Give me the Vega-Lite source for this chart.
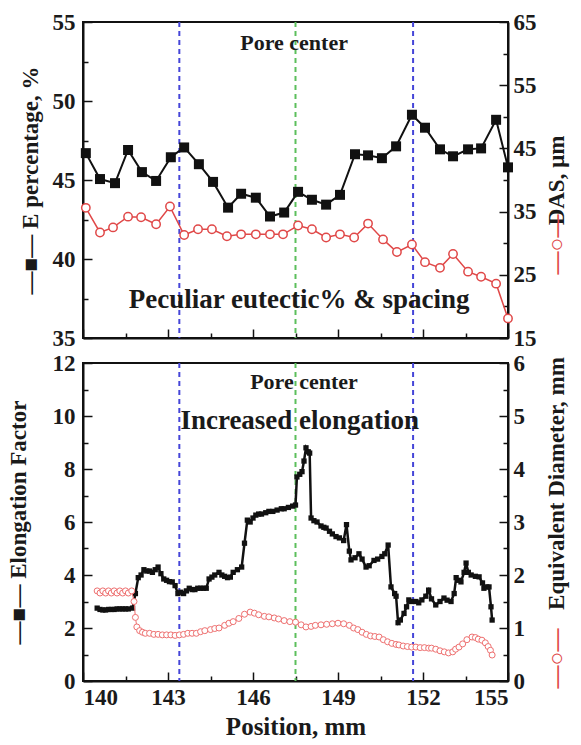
{
  "$schema": "https://vega.github.io/schema/vega-lite/v6.json",
  "background": "white",
  "padding": {"left": 5, "top": 10, "right": 4, "bottom": 0},
  "spacing": 0,
  "config": {
    "font": "Liberation Serif",
    "view": {"stroke": "#111", "strokeWidth": 2},
    "axis": {
      "labelFont": "Liberation Serif", "labelFontWeight": "bold", "labelFontSize": 23, "labelColor": "#1a1a1a",
      "titleFont": "Liberation Serif", "titleFontWeight": "bold", "titleFontSize": 23, "titleColor": "#1a1a1a",
      "domainColor": "#111", "domainWidth": 2, "tickColor": "#111", "tickWidth": 1.5, "grid": false
    },
    "text": {"font": "Liberation Serif"}
  },
  "datasets": {
    "marks": [
      {"pos": 143.4, "kind": "edge"},
      {"pos": 147.5, "kind": "center"},
      {"pos": 151.65, "kind": "edge"}
    ],
    "ep": [
      {"pos": 140.1, "E": 46.7}, {"pos": 140.6, "E": 45.06}, {"pos": 141.13, "E": 44.8}, {"pos": 141.59, "E": 46.9},
      {"pos": 142.08, "E": 45.5}, {"pos": 142.58, "E": 44.94}, {"pos": 143.1, "E": 46.44}, {"pos": 143.57, "E": 47.06},
      {"pos": 144.09, "E": 46.0}, {"pos": 144.59, "E": 44.88}, {"pos": 145.12, "E": 43.25}, {"pos": 145.58, "E": 44.13},
      {"pos": 146.1, "E": 43.88}, {"pos": 146.6, "E": 42.69}, {"pos": 147.1, "E": 42.94}, {"pos": 147.59, "E": 44.25},
      {"pos": 148.08, "E": 43.75}, {"pos": 148.58, "E": 43.44}, {"pos": 149.07, "E": 44.06}, {"pos": 149.6, "E": 46.63},
      {"pos": 150.06, "E": 46.56}, {"pos": 150.55, "E": 46.38}, {"pos": 151.05, "E": 47.13}, {"pos": 151.61, "E": 49.13},
      {"pos": 152.07, "E": 48.31}, {"pos": 152.6, "E": 46.94}, {"pos": 153.06, "E": 46.5}, {"pos": 153.59, "E": 46.94},
      {"pos": 154.05, "E": 47.0}, {"pos": 154.58, "E": 48.81}, {"pos": 155.0, "E": 45.8}
    ],
    "das": [
      {"pos": 140.1, "d": 35.6}, {"pos": 140.6, "d": 31.7}, {"pos": 141.06, "d": 32.5}, {"pos": 141.59, "d": 34.2},
      {"pos": 142.05, "d": 34.1}, {"pos": 142.58, "d": 33.0}, {"pos": 143.07, "d": 35.8}, {"pos": 143.57, "d": 31.3},
      {"pos": 144.06, "d": 32.2}, {"pos": 144.55, "d": 32.2}, {"pos": 145.08, "d": 31.1}, {"pos": 145.58, "d": 31.4},
      {"pos": 146.1, "d": 31.4}, {"pos": 146.6, "d": 31.4}, {"pos": 147.06, "d": 31.4}, {"pos": 147.59, "d": 32.8},
      {"pos": 148.08, "d": 32.2}, {"pos": 148.58, "d": 30.9}, {"pos": 149.07, "d": 31.4}, {"pos": 149.57, "d": 30.9},
      {"pos": 150.06, "d": 33.1}, {"pos": 150.59, "d": 30.6}, {"pos": 151.08, "d": 28.6}, {"pos": 151.61, "d": 29.8},
      {"pos": 152.07, "d": 27.0}, {"pos": 152.6, "d": 26.1}, {"pos": 153.06, "d": 28.3}, {"pos": 153.59, "d": 25.5},
      {"pos": 154.05, "d": 24.7}, {"pos": 154.58, "d": 23.6}, {"pos": 155.0, "d": 18.1}
    ],
    "notesTop": [
      {"pos": 147.45, "v": 53.7, "label": "Pore center"},
      {"pos": 147.63, "v": 37.4, "label": "Peculiar eutectic% & spacing"}
    ],
    "notesBot": [
      {"pos": 147.8, "v": 11.3, "label": "Pore center"},
      {"pos": 147.65, "v": 9.8, "label": "Increased elongation"}
    ],
    "ef": [
      {"pos": 140.5, "ef": 2.75}, {"pos": 140.6, "ef": 2.7}, {"pos": 140.7, "ef": 2.68}, {"pos": 140.8, "ef": 2.68},
      {"pos": 140.9, "ef": 2.7}, {"pos": 141.0, "ef": 2.7}, {"pos": 141.1, "ef": 2.7}, {"pos": 141.2, "ef": 2.72},
      {"pos": 141.3, "ef": 2.72}, {"pos": 141.4, "ef": 2.72}, {"pos": 141.5, "ef": 2.72}, {"pos": 141.6, "ef": 2.72},
      {"pos": 141.75, "ef": 2.75}, {"pos": 141.85, "ef": 3.3}, {"pos": 141.95, "ef": 3.9}, {"pos": 142.05, "ef": 4.0},
      {"pos": 142.15, "ef": 4.2}, {"pos": 142.25, "ef": 4.15}, {"pos": 142.35, "ef": 4.15}, {"pos": 142.45, "ef": 4.1},
      {"pos": 142.55, "ef": 4.2}, {"pos": 142.65, "ef": 4.3}, {"pos": 142.75, "ef": 4.05}, {"pos": 142.85, "ef": 3.85},
      {"pos": 142.95, "ef": 3.8}, {"pos": 143.05, "ef": 3.75}, {"pos": 143.15, "ef": 3.74}, {"pos": 143.25, "ef": 3.6},
      {"pos": 143.35, "ef": 3.3}, {"pos": 143.45, "ef": 3.35}, {"pos": 143.55, "ef": 3.3}, {"pos": 143.65, "ef": 3.4},
      {"pos": 143.75, "ef": 3.5}, {"pos": 143.85, "ef": 3.45}, {"pos": 143.95, "ef": 3.45}, {"pos": 144.05, "ef": 3.5},
      {"pos": 144.15, "ef": 3.5}, {"pos": 144.25, "ef": 3.5}, {"pos": 144.35, "ef": 3.5}, {"pos": 144.45, "ef": 3.85},
      {"pos": 144.55, "ef": 3.92}, {"pos": 144.65, "ef": 4.0}, {"pos": 144.8, "ef": 4.1}, {"pos": 144.9, "ef": 4.0},
      {"pos": 145.0, "ef": 3.95}, {"pos": 145.1, "ef": 3.9}, {"pos": 145.2, "ef": 3.92}, {"pos": 145.3, "ef": 4.1},
      {"pos": 145.45, "ef": 4.2}, {"pos": 145.6, "ef": 4.3}, {"pos": 145.7, "ef": 5.2}, {"pos": 145.8, "ef": 6.07},
      {"pos": 145.9, "ef": 6.0}, {"pos": 146.0, "ef": 6.15}, {"pos": 146.1, "ef": 6.26}, {"pos": 146.2, "ef": 6.3},
      {"pos": 146.3, "ef": 6.3}, {"pos": 146.45, "ef": 6.35}, {"pos": 146.56, "ef": 6.4}, {"pos": 146.7, "ef": 6.4},
      {"pos": 146.85, "ef": 6.45}, {"pos": 147.0, "ef": 6.5}, {"pos": 147.1, "ef": 6.5}, {"pos": 147.25, "ef": 6.55},
      {"pos": 147.4, "ef": 6.6}, {"pos": 147.5, "ef": 6.64}, {"pos": 147.55, "ef": 7.7}, {"pos": 147.65, "ef": 7.8},
      {"pos": 147.73, "ef": 7.9}, {"pos": 147.8, "ef": 8.3}, {"pos": 147.87, "ef": 8.8}, {"pos": 147.95, "ef": 8.65},
      {"pos": 148.0, "ef": 8.6}, {"pos": 148.05, "ef": 6.15}, {"pos": 148.15, "ef": 6.05}, {"pos": 148.26, "ef": 6.0},
      {"pos": 148.4, "ef": 5.85}, {"pos": 148.5, "ef": 5.8}, {"pos": 148.58, "ef": 5.77}, {"pos": 148.7, "ef": 5.65},
      {"pos": 148.8, "ef": 5.55}, {"pos": 148.93, "ef": 5.45}, {"pos": 149.05, "ef": 5.4}, {"pos": 149.2, "ef": 5.3},
      {"pos": 149.3, "ef": 5.9}, {"pos": 149.4, "ef": 4.9}, {"pos": 149.46, "ef": 4.57}, {"pos": 149.6, "ef": 4.65},
      {"pos": 149.74, "ef": 4.8}, {"pos": 149.85, "ef": 4.6}, {"pos": 149.99, "ef": 4.3}, {"pos": 150.1, "ef": 4.35},
      {"pos": 150.27, "ef": 4.55}, {"pos": 150.4, "ef": 4.6}, {"pos": 150.55, "ef": 4.7}, {"pos": 150.65, "ef": 4.8},
      {"pos": 150.77, "ef": 5.13}, {"pos": 150.87, "ef": 3.55}, {"pos": 151.0, "ef": 3.3}, {"pos": 151.05, "ef": 3.2},
      {"pos": 151.12, "ef": 2.2}, {"pos": 151.2, "ef": 2.3}, {"pos": 151.33, "ef": 2.55}, {"pos": 151.42, "ef": 2.8},
      {"pos": 151.5, "ef": 3.06}, {"pos": 151.6, "ef": 3.0}, {"pos": 151.75, "ef": 3.0}, {"pos": 151.85, "ef": 2.95},
      {"pos": 151.96, "ef": 3.06}, {"pos": 152.1, "ef": 3.2}, {"pos": 152.2, "ef": 3.43}, {"pos": 152.3, "ef": 3.1},
      {"pos": 152.45, "ef": 2.87}, {"pos": 152.6, "ef": 3.0}, {"pos": 152.74, "ef": 3.13}, {"pos": 152.85, "ef": 3.05},
      {"pos": 152.99, "ef": 3.0}, {"pos": 153.1, "ef": 3.3}, {"pos": 153.17, "ef": 3.9}, {"pos": 153.25, "ef": 3.8},
      {"pos": 153.34, "ef": 3.74}, {"pos": 153.45, "ef": 4.1}, {"pos": 153.52, "ef": 4.45}, {"pos": 153.6, "ef": 4.1},
      {"pos": 153.7, "ef": 4.0}, {"pos": 153.85, "ef": 3.95}, {"pos": 153.98, "ef": 3.93}, {"pos": 154.1, "ef": 3.7},
      {"pos": 154.15, "ef": 3.5}, {"pos": 154.25, "ef": 3.55}, {"pos": 154.33, "ef": 3.55}, {"pos": 154.4, "ef": 2.8},
      {"pos": 154.44, "ef": 2.3}
    ],
    "ed": [
      {"pos": 140.5, "ed": 1.7}, {"pos": 140.6, "ed": 1.66}, {"pos": 140.7, "ed": 1.7}, {"pos": 140.8, "ed": 1.66},
      {"pos": 140.9, "ed": 1.7}, {"pos": 141.0, "ed": 1.66}, {"pos": 141.1, "ed": 1.7}, {"pos": 141.2, "ed": 1.66},
      {"pos": 141.3, "ed": 1.7}, {"pos": 141.4, "ed": 1.66}, {"pos": 141.5, "ed": 1.7}, {"pos": 141.6, "ed": 1.66},
      {"pos": 141.72, "ed": 1.7}, {"pos": 141.8, "ed": 1.5}, {"pos": 141.85, "ed": 1.2}, {"pos": 141.9, "ed": 1.02},
      {"pos": 142.0, "ed": 0.95}, {"pos": 142.1, "ed": 0.92}, {"pos": 142.2, "ed": 0.9}, {"pos": 142.35, "ed": 0.9},
      {"pos": 142.5, "ed": 0.88}, {"pos": 142.65, "ed": 0.88}, {"pos": 142.8, "ed": 0.87}, {"pos": 142.95, "ed": 0.87},
      {"pos": 143.1, "ed": 0.87}, {"pos": 143.25, "ed": 0.86}, {"pos": 143.4, "ed": 0.87}, {"pos": 143.55, "ed": 0.88},
      {"pos": 143.7, "ed": 0.9}, {"pos": 143.85, "ed": 0.9}, {"pos": 144.0, "ed": 0.9}, {"pos": 144.15, "ed": 0.93},
      {"pos": 144.3, "ed": 0.95}, {"pos": 144.5, "ed": 0.97}, {"pos": 144.65, "ed": 0.99}, {"pos": 144.8, "ed": 1.0},
      {"pos": 145.0, "ed": 1.05}, {"pos": 145.15, "ed": 1.09}, {"pos": 145.3, "ed": 1.12}, {"pos": 145.5, "ed": 1.18},
      {"pos": 145.7, "ed": 1.26}, {"pos": 145.9, "ed": 1.3}, {"pos": 146.05, "ed": 1.28}, {"pos": 146.2, "ed": 1.25},
      {"pos": 146.4, "ed": 1.22}, {"pos": 146.56, "ed": 1.21}, {"pos": 146.75, "ed": 1.19}, {"pos": 146.9, "ed": 1.17},
      {"pos": 147.1, "ed": 1.14}, {"pos": 147.3, "ed": 1.12}, {"pos": 147.5, "ed": 1.11}, {"pos": 147.7, "ed": 1.06},
      {"pos": 147.87, "ed": 1.02}, {"pos": 148.05, "ed": 1.03}, {"pos": 148.2, "ed": 1.05}, {"pos": 148.4, "ed": 1.06},
      {"pos": 148.6, "ed": 1.07}, {"pos": 148.8, "ed": 1.08}, {"pos": 149.0, "ed": 1.09}, {"pos": 149.2, "ed": 1.08},
      {"pos": 149.4, "ed": 1.05}, {"pos": 149.55, "ed": 1.0}, {"pos": 149.7, "ed": 0.97}, {"pos": 149.85, "ed": 0.92},
      {"pos": 150.0, "ed": 0.88}, {"pos": 150.15, "ed": 0.85}, {"pos": 150.3, "ed": 0.84}, {"pos": 150.45, "ed": 0.83},
      {"pos": 150.6, "ed": 0.78}, {"pos": 150.75, "ed": 0.74}, {"pos": 150.9, "ed": 0.71}, {"pos": 151.05, "ed": 0.69},
      {"pos": 151.15, "ed": 0.68}, {"pos": 151.3, "ed": 0.66}, {"pos": 151.45, "ed": 0.65}, {"pos": 151.6, "ed": 0.64},
      {"pos": 151.75, "ed": 0.64}, {"pos": 151.9, "ed": 0.63}, {"pos": 152.05, "ed": 0.63}, {"pos": 152.2, "ed": 0.62},
      {"pos": 152.3, "ed": 0.62}, {"pos": 152.45, "ed": 0.6}, {"pos": 152.6, "ed": 0.57}, {"pos": 152.75, "ed": 0.55},
      {"pos": 152.9, "ed": 0.53}, {"pos": 153.05, "ed": 0.55}, {"pos": 153.15, "ed": 0.6}, {"pos": 153.27, "ed": 0.64},
      {"pos": 153.4, "ed": 0.7}, {"pos": 153.55, "ed": 0.78}, {"pos": 153.73, "ed": 0.83}, {"pos": 153.85, "ed": 0.82},
      {"pos": 153.95, "ed": 0.79}, {"pos": 154.08, "ed": 0.77}, {"pos": 154.2, "ed": 0.72}, {"pos": 154.3, "ed": 0.65},
      {"pos": 154.38, "ed": 0.58}, {"pos": 154.44, "ed": 0.49}
    ]
  },
  "vconcat": [
    {
      "width": 425,
      "height": 316,
      "encoding": {
        "x": {
          "field": "pos", "type": "quantitative",
          "scale": {"domain": [140, 155], "nice": false, "zero": false},
          "axis": {
            "values": [140, 141.5, 143, 144.5, 146, 147.5, 149, 150.5, 152, 153.5, 155],
            "labels": false, "title": null,
            "tickSize": {"condition": {"test": "(datum.value - 140) % 3 == 0", "value": -9}, "value": -5}
          }
        }
      },
      "layer": [
        {
          "data": {"name": "marks"},
          "mark": {"type": "rule", "strokeDash": [5, 4], "strokeWidth": 2},
          "encoding": {
            "color": {"field": "kind", "type": "nominal", "scale": {"domain": ["edge", "center"], "range": ["#4545d8", "#5cbf5c"]}, "legend": null}
          }
        },
        {
          "data": {"name": "ep"},
          "mark": {"type": "line", "color": "#111", "strokeWidth": 2, "point": {"shape": "square", "filled": true, "size": 100, "color": "#111"}},
          "encoding": {
            "y": {
              "field": "E", "type": "quantitative",
              "scale": {"domain": [35, 55], "nice": false, "zero": false},
              "axis": {
                "orient": "left",
                "values": [35, 37.5, 40, 42.5, 45, 47.5, 50, 52.5, 55],
                "labelExpr": "datum.value % 5 == 0 ? datum.label : ''",
                "tickSize": {"condition": {"test": "datum.value % 5 == 0", "value": -9}, "value": -5},
                "labelPadding": 17,
                "title": "—■— E percentage, %",
                "titleAngle": 270,
                "titlePadding": 10
              }
            }
          }
        },
        {
          "data": {"name": "das"},
          "mark": {"type": "line", "color": "#e04848", "strokeWidth": 1.5, "point": {"shape": "circle", "filled": true, "fill": "white", "stroke": "#e04848", "strokeWidth": 1.5, "size": 70}},
          "encoding": {
            "y": {
              "field": "d", "type": "quantitative",
              "scale": {"domain": [15, 65], "nice": false, "zero": false},
              "axis": {
                "orient": "right",
                "values": [15, 20, 25, 30, 35, 40, 45, 50, 55, 60, 65],
                "labelExpr": "(datum.value - 15) % 10 == 0 ? datum.label : ''",
                "tickSize": {"condition": {"test": "(datum.value - 15) % 10 == 0", "value": -9}, "value": -5},
                "labelPadding": 14,
                "title": "DAS, μm",
                "titleAngle": 270,
                "titleX": 48, "titleY": 158,
                "titleAlign": "center", "titleBaseline": "middle"
              }
            }
          }
        },
        {
          "data": {"name": "notesTop"},
          "mark": {"type": "text", "font": "Liberation Serif", "fontWeight": "bold", "color": "#1a1a1a"},
          "encoding": {
            "text": {"field": "label"},
            "size": {"condition": {"test": "datum.label == 'Pore center'", "value": 22}, "value": 27},
            "y": {
              "field": "v", "type": "quantitative",
              "scale": {"domain": [35, 55], "nice": false, "zero": false},
              "axis": {
                "orient": "right", "labels": false, "ticks": false, "domain": false,
                "title": "—○—", "titleColor": "#e04848",
                "titleAngle": 270, "titleX": 48, "titleY": 222,
                "titleAlign": "center", "titleBaseline": "middle"
              }
            }
          }
        }
      ],
      "resolve": {"scale": {"y": "independent"}}
    },
    {
      "width": 425,
      "height": 318,
      "encoding": {
        "x": {
          "field": "pos", "type": "quantitative",
          "scale": {"domain": [140, 155], "nice": false, "zero": false},
          "axis": {
            "values": [140, 141.5, 143, 144.5, 146, 147.5, 149, 150.5, 152, 153.5, 155],
            "labelExpr": "(datum.value - 140) % 3 == 0 ? datum.label : ''",
            "tickSize": {"condition": {"test": "(datum.value - 140) % 3 == 0", "value": -9}, "value": -5},
            "labelPadding": 14,
            "title": "Position, mm",
            "titleFontSize": 25,
            "titlePadding": 5
          }
        }
      },
      "layer": [
        {
          "data": {"name": "marks"},
          "mark": {"type": "rule", "strokeDash": [5, 4], "strokeWidth": 2},
          "encoding": {
            "color": {"field": "kind", "type": "nominal", "scale": {"domain": ["edge", "center"], "range": ["#4545d8", "#5cbf5c"]}, "legend": null}
          }
        },
        {
          "data": {"name": "ef"},
          "mark": {"type": "line", "color": "#111", "strokeWidth": 2.5, "point": {"shape": "square", "filled": true, "size": 28, "color": "#111"}},
          "encoding": {
            "y": {
              "field": "ef", "type": "quantitative",
              "scale": {"domain": [0, 12], "nice": false},
              "axis": {
                "orient": "left",
                "values": [0, 1, 2, 3, 4, 5, 6, 7, 8, 9, 10, 11, 12],
                "labelExpr": "datum.value % 2 == 0 ? datum.label : ''",
                "tickSize": {"condition": {"test": "datum.value % 2 == 0", "value": -9}, "value": -5},
                "labelPadding": 17,
                "title": "—■— Elongation Factor",
                "titleAngle": 270,
                "titlePadding": 22
              }
            }
          }
        },
        {
          "data": {"name": "ed"},
          "mark": {"type": "line", "color": "#ee7070", "strokeWidth": 1, "point": {"shape": "circle", "filled": true, "fill": "white", "stroke": "#ee7070", "strokeWidth": 1, "size": 36}},
          "encoding": {
            "y": {
              "field": "ed", "type": "quantitative",
              "scale": {"domain": [0, 6], "nice": false},
              "axis": {
                "orient": "right",
                "values": [0, 0.5, 1, 1.5, 2, 2.5, 3, 3.5, 4, 4.5, 5, 5.5, 6],
                "labelExpr": "datum.value % 1 == 0 ? format(datum.value, 'd') : ''",
                "tickSize": {"condition": {"test": "datum.value % 1 == 0", "value": -9}, "value": -5},
                "labelPadding": 14,
                "title": "Equivalent Diameter, mm",
                "titleAngle": 270,
                "titleX": 48, "titleY": 120,
                "titleAlign": "center", "titleBaseline": "middle"
              }
            }
          }
        },
        {
          "data": {"name": "notesBot"},
          "mark": {"type": "text", "font": "Liberation Serif", "fontWeight": "bold", "color": "#1a1a1a"},
          "encoding": {
            "text": {"field": "label"},
            "size": {"condition": {"test": "datum.label == 'Pore center'", "value": 22}, "value": 27},
            "y": {
              "field": "v", "type": "quantitative",
              "scale": {"domain": [0, 12], "nice": false},
              "axis": {
                "orient": "right", "labels": false, "ticks": false, "domain": false,
                "title": "—○—", "titleColor": "#e04848",
                "titleAngle": 270, "titleX": 48, "titleY": 295,
                "titleAlign": "center", "titleBaseline": "middle"
              }
            }
          }
        }
      ],
      "resolve": {"scale": {"y": "independent"}}
    }
  ]
}
